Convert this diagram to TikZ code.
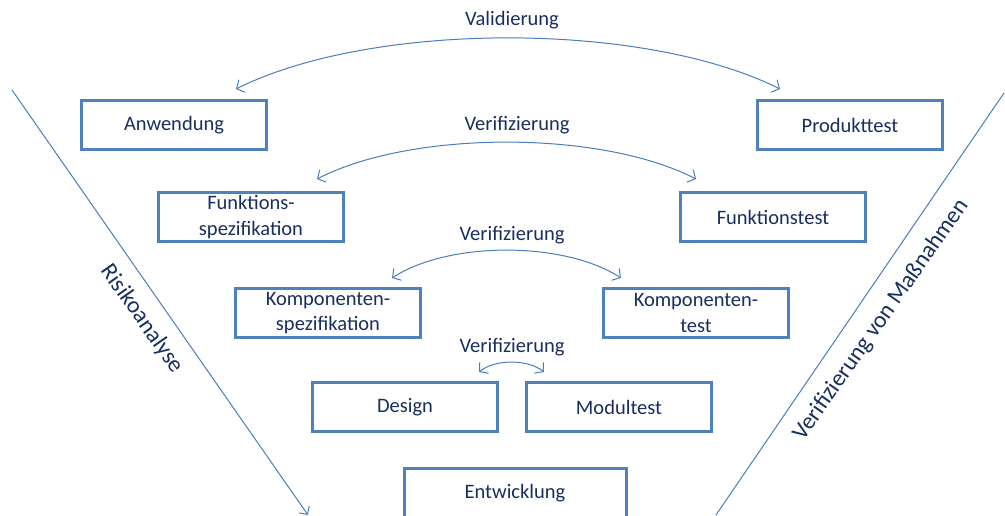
\documentclass[tikz,border=0pt]{standalone}
\usepackage{fontspec}
\setmainfont{Carlito}
\usetikzlibrary{arrows.meta}
\definecolor{boxblue}{RGB}{79,129,189}
\definecolor{linkblue}{RGB}{74,126,187}
\definecolor{navy}{RGB}{23,46,94}
\tikzset{
  x=1pt, y=-1pt,
  stage/.style={draw=boxblue, line width=3pt, minimum width=185pt, minimum height=49pt,
    inner sep=1pt, align=center, text=navy, font=\fontsize{20.5}{25.5}\selectfont},
  label/.style={text=navy, font=\fontsize{20.5}{24}\selectfont, inner sep=0pt},
  sidelabel/.style={text=navy, font=\fontsize{23.5}{28}\selectfont, inner sep=0pt},
  link/.style={draw=linkblue, line width=1pt, {Straight Barb[length=6pt,width=14pt]}-{Straight Barb[length=6pt,width=14pt]}},
  side/.style={draw=linkblue, line width=1pt},
}
\begin{document}
\begin{tikzpicture}
\useasboundingbox (0,0) rectangle (1005,515);

% stages of the V
\node[stage] (anw)  at (174,125) {Anwendung};
\node[stage] (prod) at (850,125) {Produkttest};
\node[stage] (fspec) at (251,217) {Funktions-\\spezifikation};
\node[stage] (ftest) at (773,217) {Funktionstest};
\node[stage] (kspec) at (328,313) {Komponenten-\\spezifikation};
\node[stage] (ktest) at (696,313) {Komponenten-\\test};
\node[stage] (design) at (405,407) {Design};
\node[stage] (modul) at (619,407) {Modultest};
\node[stage, minimum width=222pt] (entw) at (515,493) {Entwicklung};

% verification arcs
\node[label] (val) at (512,20) {Validierung};
\coordinate (v0a) at (236,89);  \coordinate (v0b) at (780,89);
\draw[link] (v0a) .. controls (372,21) and (644,21) .. (v0b);

\node[label] (ver1) at (517,125) {Verifizierung};
\coordinate (v1a) at (317,179); \coordinate (v1b) at (696,179);
\draw[link] (v1a) .. controls (412,130) and (601,130) .. (v1b);

\node[label] (ver2) at (512,235) {Verifizierung};
\coordinate (v2a) at (392,278); \coordinate (v2b) at (621,278);
\draw[link] (v2a) .. controls (449,241) and (564,241) .. (v2b);

\node[label] (ver3) at (512,347) {Verifizierung};
\coordinate (v3a) at (479,372); \coordinate (v3b) at (544,372);
\draw[link] (v3a) .. controls (495,359) and (528,359) .. (v3b);

% side lines
\coordinate (lt) at (12,90);   \coordinate (lb) at (308,515);
\draw[side, -{Straight Barb[length=6pt,width=12pt]}] (lt) -- (lb);
\coordinate (rt) at (1004,93); \coordinate (rb) at (716,515);
\draw[side] (rb) -- (rt);

\node[sidelabel, rotate=-55] (risk) at (142,319) {Risikoanalyse};
\node[sidelabel, rotate=55] (mass) at (881,320) {Verifizierung von Maßnahmen};
\end{tikzpicture}
\end{document}
